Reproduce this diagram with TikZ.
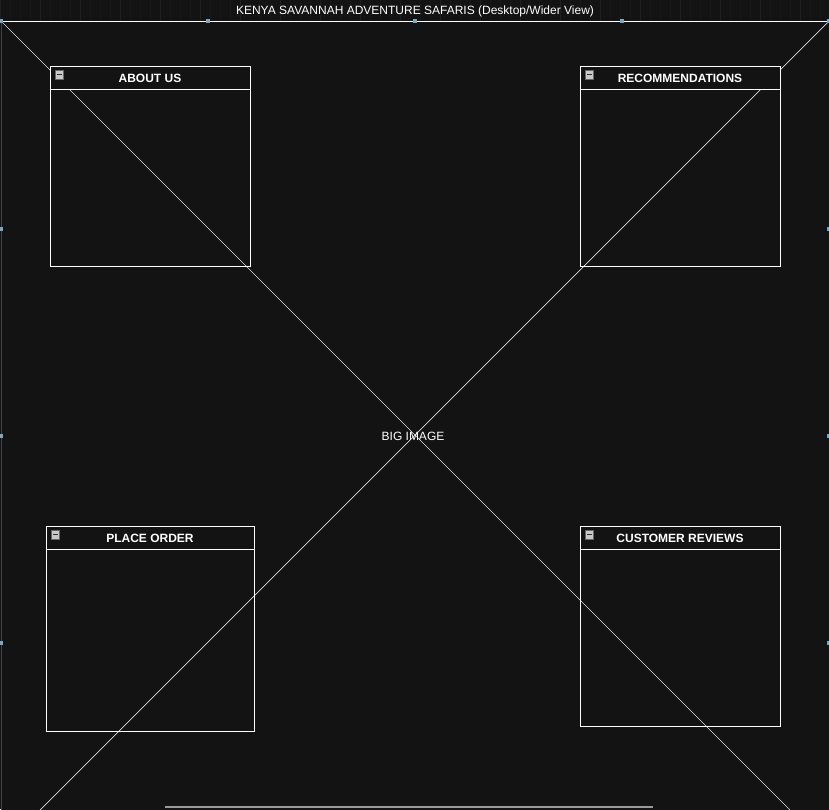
\documentclass[tikz,border=0pt]{standalone}
\usepackage{fontspec}
\setmainfont{Liberation Sans}
\begin{document}
\begin{tikzpicture}[x=1pt,y=-1pt,
  edge/.style={draw=white,line width=0.8pt},
  diag/.style={draw=white!85!black,line width=0.7pt},
  panelbody/.style={draw=white,line width=0.8pt},
  panelhead/.style={draw=white,fill=bgc,line width=0.8pt},
  headtext/.style={text=white,font=\fontsize{12}{14}\selectfont\bfseries},
  handle/.style={fill=handlec,inner sep=0pt,minimum size=3.5pt},
  minusbox/.style={fill=iconc,draw=black!60,line width=0.3pt}]
\definecolor{bgc}{HTML}{131313}
\definecolor{gridc}{HTML}{181818}
\definecolor{gridm}{HTML}{1F1F1F}
\definecolor{handlec}{HTML}{7FA6C0}
\definecolor{iconc}{HTML}{C8C8C8}
\definecolor{barc}{HTML}{9A9A9A}
% canvas
\fill[bgc] (0,0) rectangle (829,809);
\useasboundingbox (0,0) rectangle (829,809);
% faint grid behind the title band
\draw[gridc,line width=0.3pt] (0,0) grid[step=10] (829,21);
\draw[gridm,line width=0.4pt] (0,0) grid[step=40] (829,21);
% title
\node[text=white,font=\fontsize{12}{14}\selectfont] (title) at (415,11.8) {KENYA SAVANNAH ADVENTURE SAFARIS (Desktop/Wider View)};
% big image placeholder frame
\coordinate (tl) at (1,21);
\coordinate (tr) at (829,21);
\coordinate (bl) at (1,849);
\coordinate (br) at (829,849);
\fill[bgc] (tl) rectangle (br);
\draw[edge] (tl) -- (tr);
\draw[white!20!bgc,line width=0.6pt] (tl) -- (bl) (tr) -- (br);
\draw[diag] (tl) -- (br);
\draw[diag] (tr) -- (bl);
\node[text=white,font=\fontsize{12}{14}\selectfont,inner sep=0pt] (big) at (413,436.8) {BIG IMAGE};
% selection handles
\foreach \hx in {1,208,415,622,829} \node[handle] at (\hx,21) {};
\foreach \hy in {229,436,643} {\node[handle] at (1,\hy) {}; \node[handle] at (829,\hy) {};}
% panels: body, header bar, collapse icon, title
\foreach \name/\xa/\ya/\xb/\yb/\lbl in {about/50/66/250/266/ABOUT US,
    recs/580/66/780/266/RECOMMENDATIONS,
    order/46/526/254/731/PLACE ORDER,
    reviews/580/526/780/726/CUSTOMER REVIEWS} {
  \draw[panelbody] (\xa,\ya) rectangle (\xb,\yb);
  \path[panelhead] (\xa,\ya) rectangle (\xb,\ya+23);
  \draw[minusbox] (\xa+5,\ya+4.5) rectangle (\xa+13.5,\ya+13);
  \fill[black!80] (\xa+6.8,\ya+8.2) rectangle (\xa+11.7,\ya+9.4);
  \node[headtext] (\name) at ({(\xa+\xb)/2},\ya+12.8) {\lbl};
}
% horizontal scrollbar
\draw[barc,line width=2pt] (165,806.5) -- (653,806.5);
\end{tikzpicture}
\end{document}
